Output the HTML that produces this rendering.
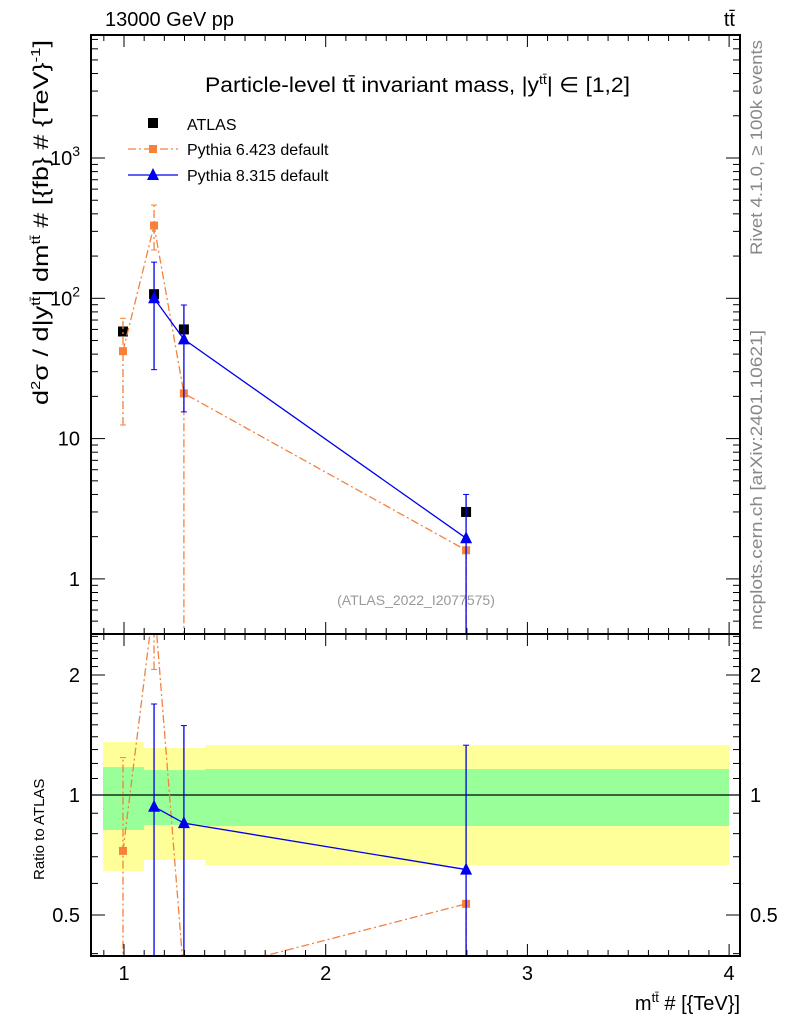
<!DOCTYPE html>
<html><head><meta charset="utf-8"><style>
html,body{margin:0;padding:0;background:#fff;overflow:hidden;}
svg{display:block;}
svg text{font-family:"Liberation Sans",sans-serif;}
</style></head><body>
<svg id="c" width="786" height="1024" xmlns="http://www.w3.org/2000/svg">
<text x="105" y="26" font-size="20">13000 GeV pp</text>
<text x="735" y="26" font-size="20" text-anchor="end">tt̄</text>
<text x="205" y="92" font-size="21" textLength="425" lengthAdjust="spacingAndGlyphs">Particle-level tt̄ invariant mass, |y<tspan dy="-8" font-size="13">tt̄</tspan><tspan dy="8">| ∈ [1,2]</tspan></text>
<text x="416" y="605" font-size="14" fill="#999" text-anchor="middle">(ATLAS_2022_I2077575)</text>
<text transform="translate(762,255) rotate(-90)" font-size="17" fill="#888" textLength="215" lengthAdjust="spacingAndGlyphs">Rivet 4.1.0, ≥ 100k events</text>
<text transform="translate(762,630) rotate(-90)" font-size="17" fill="#888" textLength="300" lengthAdjust="spacingAndGlyphs">mcplots.cern.ch [arXiv:2401.10621]</text>
<text transform="translate(48,405) rotate(-90)" font-size="21" textLength="365" lengthAdjust="spacingAndGlyphs">d<tspan dy="-8" font-size="13">2</tspan><tspan dy="8">σ / d|y</tspan><tspan dy="-8" font-size="13">tt̄</tspan><tspan dy="8">| dm</tspan><tspan dy="-8" font-size="13">tt̄</tspan><tspan dy="8"> # [{fb} # {TeV}</tspan><tspan dy="-8" font-size="13">-1</tspan><tspan dy="8">]</tspan></text>
<text transform="translate(44,880) rotate(-90)" font-size="15">Ratio to ATLAS</text>
<text x="740" y="1010" font-size="20" text-anchor="end">m<tspan dy="-8" font-size="13">tt̄</tspan><tspan dy="8"> # [{TeV}]</tspan></text>
<g id="g"></g>
</svg>
<script>
const xs=[0.995,1.149,1.297,2.696];
const atlas=[58,107,60,3.0];
const p6=[42,330,21,1.6];
const p6lo=[12.5,221,0.1,0.1];
const p6hi=[72,462,21,1.6];
const p8x=[1.149,1.297,2.696];
const p8=[100,51,1.95];
const p8lo=[31,15.5,0.1];
const p8hi=[181,89.6,4.0];
const binEdges=[0.896,1.099,1.402,4.0];
const band1lo=[0.817,0.841,0.836];
const band1hi=[1.175,1.155,1.162];
const band2lo=[0.645,0.687,0.667];
const band2hi=[1.358,1.312,1.335];
const xTicks=[1,2,3,4];
const yTicks=[1,10,100,1000];
const rTicks=[0.5,1,2];

const L=91,R=740,T=35,MB=634,RB=956;
const X=v=>124+(v-1)*201.7;
const Y=v=>158-(Math.log10(v)-3)*140.3;
const RY=v=>795-Math.log10(v)*398.6;
const g=document.getElementById('g');
const NS='http://www.w3.org/2000/svg';
function mk(t,a,p){const e=document.createElementNS(NS,t);for(const k in a)e.setAttribute(k,a[k]);(p||g).appendChild(e);return e;}
const cm=mk('clipPath',{id:'cm'});mk('rect',{x:L,y:T,width:R-L,height:MB-T},cm);
const cr=mk('clipPath',{id:'cr'});mk('rect',{x:L,y:MB,width:R-L,height:RB-MB},cr);
const gm=mk('g',{'clip-path':'url(#cm)'});
const gr=mk('g',{'clip-path':'url(#cr)'});
for(let i=0;i<3;i++){
 let e=mk('rect',{x:X(binEdges[i]),y:RY(band2hi[i]),width:X(binEdges[i+1])-X(binEdges[i]),height:RY(band2lo[i])-RY(band2hi[i]),fill:'#ffff99'},gr);
 
 
}
for(let i=0;i<3;i++){
 let e=mk('rect',{x:X(binEdges[i]),y:RY(band1hi[i]),width:X(binEdges[i+1])-X(binEdges[i]),height:RY(band1lo[i])-RY(band1hi[i]),fill:'#99ff99'},gr);
 
 
}
mk('line',{x1:L,x2:R,y1:RY(1),y2:RY(1),stroke:'#000','stroke-width':1.2},gr);
const OR='#f5813a',BL='#0000ee',DASH='8,3,2,3';
function series(par,xa,ya,lo,hi,ymap,col,dash,name,marker){
 mk('polyline',{points:xa.map((x,i)=>X(x)+','+ymap(ya[i])).join(' '),fill:'none',stroke:col,'stroke-width':1.3,'stroke-dasharray':dash||''},par);
 xa.forEach((x,i)=>{
  const px=X(x);
  const a=mk('line',{x1:px,x2:px,y1:ymap(lo[i]),y2:ymap(hi[i]),stroke:col,'stroke-width':1.3,'stroke-dasharray':dash||''},par);
  
  
  mk('line',{x1:px-3,x2:px+3,y1:ymap(hi[i]),y2:ymap(hi[i]),stroke:col},par);
  mk('line',{x1:px-3,x2:px+3,y1:ymap(lo[i]),y2:ymap(lo[i]),stroke:col},par);
  const py=ymap(ya[i]);let m;
  if(marker==='tri')m=mk('polygon',{points:`${px-6},${py+5} ${px+6},${py+5} ${px},${py-7}`,fill:col},par);
  else m=mk('rect',{x:px-4,y:py-4,width:8,height:8,fill:col},par);
  
  
 });
}
atlas.forEach((v,i)=>{const m=mk('rect',{x:X(xs[i])-5,y:Y(v)-5,width:10,height:10,fill:'#000'},gm);
 });
series(gm,xs,p6,p6lo,p6hi,Y,OR,DASH,'pythia6','sq');
series(gm,p8x,p8,p8lo,p8hi,Y,BL,'','pythia8','tri');
const aAt=x=>atlas[xs.indexOf(x)];
series(gr,xs,p6.map((v,i)=>v/atlas[i]),p6lo.map((v,i)=>v/atlas[i]),p6hi.map((v,i)=>v/atlas[i]),RY,OR,DASH,'pythia6-ratio','sq');
series(gr,p8x,p8.map((v,i)=>v/aAt(p8x[i])),p8lo.map((v,i)=>v/aAt(p8x[i])),p8hi.map((v,i)=>v/aAt(p8x[i])),RY,BL,'','pythia8-ratio','tri');
mk('rect',{x:L,y:T,width:R-L,height:MB-T,fill:'none',stroke:'#000','stroke-width':2});
mk('rect',{x:L,y:MB,width:R-L,height:RB-MB,fill:'none',stroke:'#000','stroke-width':2});
for(let v=0.9;v<=4.001;v+=0.1){const px=X(v);const maj=Math.abs(v-Math.round(v))<1e-6;const l=maj?12:6;
 [T,MB].forEach(y0=>{mk('line',{x1:px,x2:px,y1:y0,y2:y0+l,stroke:'#000'});});
 [MB,RB].forEach(y0=>{mk('line',{x1:px,x2:px,y1:y0,y2:y0-l,stroke:'#000'});});}
xTicks.forEach(v=>{const t=mk('text',{x:X(v),y:980,'font-size':20,'text-anchor':'middle'});t.textContent=v;
 });
for(let d=-1;d<=3;d++)for(let k=1;k<10;k++){const v=k*Math.pow(10,d);const py=Y(v);if(py<T||py>MB)continue;const l=k==1?14:7;
 mk('line',{x1:L,x2:L+l,y1:py,y2:py,stroke:'#000'});mk('line',{x1:R,x2:R-l,y1:py,y2:py,stroke:'#000'});}
yTicks.forEach((v,i)=>{const t=mk('text',{x:80,y:Y(v)+7,'font-size':20,'text-anchor':'end'});
 if(v>=100){t.textContent='10';const s=mk('tspan',{dy:-9,'font-size':14},t);s.textContent=v==100?'2':'3';}else t.textContent=v;
 });
[0.4,0.5,0.6,0.7,0.8,0.9,1,1.1,1.2,1.3,1.4,1.5,1.6,1.7,1.8,1.9,2,2.1,2.2,2.3,2.4,2.5].forEach(v=>{const py=RY(v);if(py<MB||py>RB)return;
 const maj=rTicks.includes(v);const l=maj?14:7;
 mk('line',{x1:L,x2:L+l,y1:py,y2:py,stroke:'#000'});mk('line',{x1:R,x2:R-l,y1:py,y2:py,stroke:'#000'});});
rTicks.forEach(v=>{[[80,'end'],[750,'start']].forEach(([x,a])=>{const t=mk('text',{x:x,y:RY(v)+7,'font-size':20,'text-anchor':a});t.textContent=v;
 });});
const lg=mk('g',{});
mk('rect',{x:148,y:118,width:10,height:10,fill:'#000'},lg);
let t=mk('text',{x:187,y:130,'font-size':16},lg);t.textContent='ATLAS';
mk('line',{x1:128,x2:178,y1:149,y2:149,stroke:OR,'stroke-width':1.3,'stroke-dasharray':DASH},lg);
mk('rect',{x:149,y:145,width:8,height:8,fill:OR},lg);
t=mk('text',{x:187,y:155,'font-size':16},lg);t.textContent='Pythia 6.423 default';
mk('line',{x1:128,x2:178,y1:175,y2:175,stroke:BL,'stroke-width':1.3},lg);
mk('polygon',{points:'147,180 159,180 153,168',fill:BL},lg);
t=mk('text',{x:187,y:181,'font-size':16},lg);t.textContent='Pythia 8.315 default';
</script>
</body></html>
